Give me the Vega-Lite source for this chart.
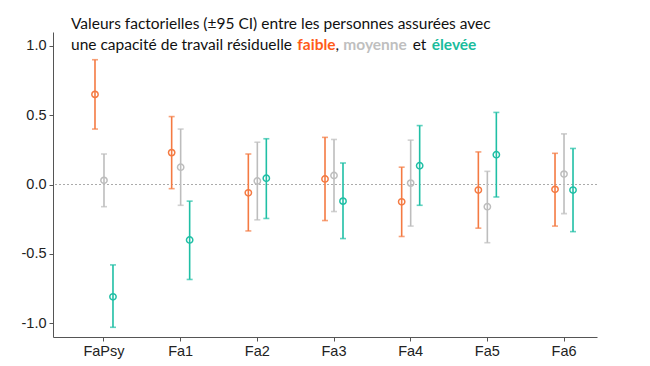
{
  "$schema": "https://vega.github.io/schema/vega-lite/v6.json",
  "width": 544,
  "height": 305,
  "autosize": {"type": "none"},
  "padding": {"left": 53, "top": 32, "right": 53, "bottom": 29},
  "background": "white",
  "config": {"view": {"stroke": null}},
  "datasets": {
    "est": [
      {"factor": "FaPsy", "group": "faible", "est": 0.65, "lo": 0.40, "hi": 0.90},
      {"factor": "FaPsy", "group": "moyenne", "est": 0.03, "lo": -0.16, "hi": 0.22},
      {"factor": "FaPsy", "group": "élevée", "est": -0.81, "lo": -1.03, "hi": -0.58},
      {"factor": "Fa1", "group": "faible", "est": 0.23, "lo": -0.03, "hi": 0.49},
      {"factor": "Fa1", "group": "moyenne", "est": 0.125, "lo": -0.15, "hi": 0.40},
      {"factor": "Fa1", "group": "élevée", "est": -0.40, "lo": -0.685, "hi": -0.12},
      {"factor": "Fa2", "group": "faible", "est": -0.06, "lo": -0.335, "hi": 0.22},
      {"factor": "Fa2", "group": "moyenne", "est": 0.025, "lo": -0.255, "hi": 0.305},
      {"factor": "Fa2", "group": "élevée", "est": 0.045, "lo": -0.245, "hi": 0.33},
      {"factor": "Fa3", "group": "faible", "est": 0.04, "lo": -0.26, "hi": 0.34},
      {"factor": "Fa3", "group": "moyenne", "est": 0.065, "lo": -0.195, "hi": 0.325},
      {"factor": "Fa3", "group": "élevée", "est": -0.12, "lo": -0.39, "hi": 0.155},
      {"factor": "Fa4", "group": "faible", "est": -0.125, "lo": -0.375, "hi": 0.125},
      {"factor": "Fa4", "group": "moyenne", "est": 0.01, "lo": -0.30, "hi": 0.32},
      {"factor": "Fa4", "group": "élevée", "est": 0.135, "lo": -0.15, "hi": 0.425},
      {"factor": "Fa5", "group": "faible", "est": -0.04, "lo": -0.315, "hi": 0.235},
      {"factor": "Fa5", "group": "moyenne", "est": -0.16, "lo": -0.42, "hi": 0.095},
      {"factor": "Fa5", "group": "élevée", "est": 0.215, "lo": -0.09, "hi": 0.52},
      {"factor": "Fa6", "group": "faible", "est": -0.035, "lo": -0.30, "hi": 0.225},
      {"factor": "Fa6", "group": "moyenne", "est": 0.075, "lo": -0.21, "hi": 0.365},
      {"factor": "Fa6", "group": "élevée", "est": -0.04, "lo": -0.34, "hi": 0.26}
    ]
  },
  "layer": [
    {
      "data": {"values": [{"zero": 0}]},
      "mark": {"type": "rule", "color": "#ABABAB", "strokeWidth": 1, "strokeDash": [2, 2]},
      "encoding": {"y": {"field": "zero", "type": "quantitative", "scale": {"domain": [-1.1, 1.1]}}}
    },
    {
      "data": {"name": "est"},
      "encoding": {
        "x": {
          "field": "factor", "type": "nominal",
          "sort": ["FaPsy", "Fa1", "Fa2", "Fa3", "Fa4", "Fa5", "Fa6"],
          "scale": {"type": "band", "paddingInner": 0.648, "paddingOuter": 0.3716, "align": 0.658},
          "axis": {
            "title": null, "labelAngle": 0, "labelFont": "Liberation Sans", "labelFontSize": 14.5,
            "labelColor": "#222222", "domainColor": "#555555", "tickColor": "#555555",
            "tickSize": 4, "labelPadding": 3, "grid": false
          }
        },
        "xOffset": {
          "field": "group", "type": "nominal",
          "sort": ["faible", "moyenne", "élevée"],
          "scale": {"paddingInner": 0, "paddingOuter": 0}
        },
        "color": {
          "field": "group", "type": "nominal",
          "scale": {"domain": ["faible", "moyenne", "élevée"], "range": ["#F47A42", "#BDBDBD", "#1FBFA5"]},
          "legend": null
        }
      },
      "layer": [
        {
          "mark": {"type": "rule", "strokeWidth": 1.6},
          "encoding": {
            "y": {
              "field": "lo", "type": "quantitative",
              "scale": {"domain": [-1.1, 1.1], "nice": false, "zero": false},
              "axis": {
                "title": null, "values": [-1, -0.5, 0, 0.5, 1], "grid": false,
                "labelExpr": "replace(format(datum.value, '.1f'), '\u2212', '-')",
                "labelFont": "Liberation Sans", "labelFontSize": 14.5, "labelColor": "#222222",
                "domainColor": "#555555", "tickColor": "#555555", "tickSize": 4, "labelPadding": 3
              }
            },
            "y2": {"field": "hi"}
          }
        },
        {
          "mark": {"type": "tick", "size": 6, "thickness": 1.6, "orient": "horizontal"},
          "encoding": {"y": {"field": "lo", "type": "quantitative"}}
        },
        {
          "mark": {"type": "tick", "size": 6, "thickness": 1.6, "orient": "horizontal"},
          "encoding": {"y": {"field": "hi", "type": "quantitative"}}
        },
        {
          "mark": {"type": "point", "filled": false, "size": 40, "strokeWidth": 1.5, "opacity": 1},
          "encoding": {"y": {"field": "est", "type": "quantitative"}}
        }
      ]
    },
    {
      "data": {"values": [{"t": "Valeurs factorielles (±95 CI) entre les personnes assurées avec"}]},
      "mark": {"type": "text", "align": "left", "baseline": "alphabetic", "x": 18, "y": -3.5, "font": "Lato", "fontSize": 15.5, "color": "#111111"},
      "encoding": {"text": {"field": "t"}}
    },
    {
      "data": {"values": [{"t": "une capacité de travail résiduelle"}]},
      "mark": {"type": "text", "align": "left", "baseline": "alphabetic", "x": 18, "y": 17.5, "font": "Lato", "fontSize": 15.5, "color": "#111111"},
      "encoding": {"text": {"field": "t"}}
    },
    {
      "data": {"values": [{"t": "faible"}]},
      "mark": {"type": "text", "align": "left", "baseline": "alphabetic", "x": 244.3, "y": 17.5, "font": "Lato", "fontSize": 15.5, "fontWeight": "bold", "color": "#FF5B1A"},
      "encoding": {"text": {"field": "t"}}
    },
    {
      "data": {"values": [{"t": ","}]},
      "mark": {"type": "text", "align": "left", "baseline": "alphabetic", "x": 282.5, "y": 17.5, "font": "Lato", "fontSize": 15.5, "color": "#111111"},
      "encoding": {"text": {"field": "t"}}
    },
    {
      "data": {"values": [{"t": "moyenne"}]},
      "mark": {"type": "text", "align": "left", "baseline": "alphabetic", "x": 290.3, "y": 17.5, "font": "Lato", "fontSize": 15.5, "fontWeight": "bold", "color": "#BFBFBF"},
      "encoding": {"text": {"field": "t"}}
    },
    {
      "data": {"values": [{"t": "et"}]},
      "mark": {"type": "text", "align": "left", "baseline": "alphabetic", "x": 359.7, "y": 17.5, "font": "Lato", "fontSize": 15.5, "color": "#111111"},
      "encoding": {"text": {"field": "t"}}
    },
    {
      "data": {"values": [{"t": "élevée"}]},
      "mark": {"type": "text", "align": "left", "baseline": "alphabetic", "x": 378.7, "y": 17.5, "font": "Lato", "fontSize": 15.5, "fontWeight": "bold", "color": "#1ABC9C"},
      "encoding": {"text": {"field": "t"}}
    }
  ]
}
